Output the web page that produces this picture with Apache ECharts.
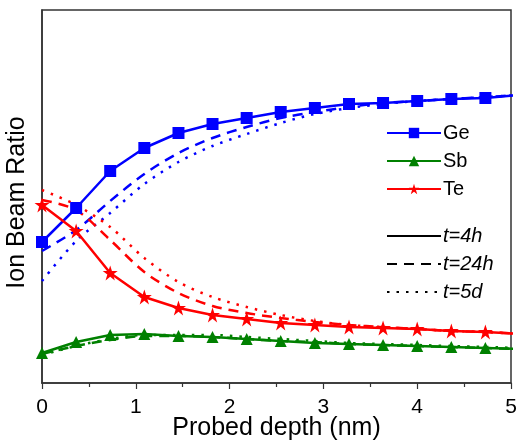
<!DOCTYPE html>
<html>
<head>
<meta charset="utf-8">
<script src="https://cdn.jsdelivr.net/npm/echarts@6/dist/echarts.min.js"></script>
<style>html,body{margin:0;padding:0;background:#fff;}#c{width:516px;height:443px;}</style>
</head>
<body>
<div id="c"></div>
<script>
// Probed depth (nm)
var depth = [0, 0.364, 0.727, 1.091, 1.455, 1.818, 2.182, 2.545, 2.909, 3.273, 3.636, 4.0, 4.364, 4.727, 5.091];
// Ion beam ratio (arbitrary units)
var ge4h  = [141,175,212,235,250,259,265,271,275,279,280,282,284,285,288];
var ge24h = [132,153,182,209,230,245,256,265,271,276,280,282,284,286,288];
var ge5d  = [102,142,170,199,221,237,249,260,269,275,279,282,284,286,288];
var sb4h  = [30,41,48,49,47,46,44,42,40,39,38,37,36,35,34];
var sb24h = [29,37,43,47,47,46,44,42,41,39,38,37,36,35,34];
var sb5d  = [28,37,44,48,48,48,46,44,42,40,39,38,37,36,35];
var te4h  = [178,152,110,86,75,68,64,60,58,56,55,54,52,51,49];
var te24h = [183,173,143,111,90,77,70,65,61,58,56,54,52,51,49];
var te5d  = [193,178,156,125,101,86,76,68,62,58,56,54,52,51,49];
var elementNames = ['Ge','Sb','Te'];
var timeNames = ['t=4h','t=24h','t=5d'];
var xTicks = [0,1,2,3,4,5];

function pairs(v){ return depth.map(function(x,i){ return [x, v[i]]; }); }
var FONT = '"Liberation Sans", Arial, sans-serif';
var BLUE = '#0000ff', GREEN = '#008000', RED = '#ff0000';
var DASH = [10,7], DOT = [2.5,7];

function solid(name, color, sym, size, data){
  return {name:name, type:'line', data:pairs(data), symbol:sym, symbolSize:size,
    color:color, itemStyle:{color:color}, lineStyle:{color:color, width:2.5, type:'solid'}, z:5, animation:false};
}
function broken(name, color, type, data){
  return {name:name, type:'line', data:pairs(data), symbol:'none', smooth:0.3,
    color:color, lineStyle:{color:color, width:2.5, type:type}, z:3, animation:false};
}
function dummy(name, type){
  return {name:name, type:'line', data:[], symbol:'circle', symbolSize:0,
    itemStyle:{color:'rgba(0,0,0,0)', borderColor:'rgba(0,0,0,0)', borderWidth:0},
    lineStyle:{color:'#000', width:2.8, type:type}, animation:false};
}
var starPath = 'path://M50,0 L61.8,35.4 L100,35.4 L69.1,57.3 L80.9,95.1 L50,71.8 L19.1,95.1 L30.9,57.3 L0,35.4 L38.2,35.4 Z';

var chart = echarts.init(document.getElementById('c'), null, {renderer:'canvas'});
chart.setOption({
  animation:false,
  backgroundColor:'#fff',
  grid:{left:42, right:5, top:10, bottom:60, outerBoundsMode:'none', containLabel:false,
    show:true, borderColor:'#333', borderWidth:1.5, backgroundColor:'transparent'},
  xAxis:{type:'value', min:0, max:5, interval:1,
    name:'Probed depth (nm)', nameLocation:'middle', nameGap:33, nameMoveOverlap:false,
    nameTextStyle:{fontFamily:FONT, fontSize:25, color:'#000'},
    axisLine:{show:true, onZero:false, lineStyle:{color:'#333', width:1.5}},
    axisTick:{show:true, inside:false, length:6, lineStyle:{color:'#333', width:1.2}},
    minorTick:{show:true, splitNumber:2, length:4, lineStyle:{color:'#333', width:1.2}},
    axisLabel:{fontFamily:FONT, fontSize:21, color:'#000', margin:14,
      formatter:function(v){ return xTicks.indexOf(v) >= 0 ? String(v) : ''; }},
    splitLine:{show:false}},
  yAxis:{type:'value', min:0, max:373,
    name:'Ion Beam Ratio', nameLocation:'middle', nameGap:12, nameRotate:90, nameMoveOverlap:false,
    nameTextStyle:{fontFamily:FONT, fontSize:25, color:'#000', padding:[0,12,0,0]},
    axisLine:{show:true, lineStyle:{color:'#333', width:1.5}},
    axisTick:{show:false}, axisLabel:{show:false}, splitLine:{show:false}},
  legend:[
    {data:elementNames, orient:'vertical', left:381, top:118, itemWidth:54, itemHeight:13, itemGap:8,
      textStyle:{fontFamily:FONT, fontSize:20, color:'#000', padding:[0,0,0,-3]}, selectedMode:false},
    {data:timeNames, orient:'vertical', left:381, top:221, itemWidth:54, itemHeight:13, itemGap:8,
      textStyle:{fontFamily:FONT, fontSize:20, color:'#000', fontStyle:'italic', padding:[0,0,0,-3]}, selectedMode:false}
  ],
  series:[
    broken('Ge 24h', BLUE, DASH, ge24h),
    broken('Ge 5d', BLUE, DOT, ge5d),
    broken('Sb 24h', GREEN, DASH, sb24h),
    broken('Sb 5d', GREEN, DOT, sb5d),
    broken('Te 24h', RED, DASH, te24h),
    broken('Te 5d', RED, DOT, te5d),
    solid('Ge', BLUE, 'rect', 12, ge4h),
    solid('Sb', GREEN, 'triangle', 12, sb4h),
    solid('Te', RED, starPath, 15, te4h),
    dummy('t=4h', 'solid'),
    dummy('t=24h', DASH),
    dummy('t=5d', DOT)
  ]
});
</script>
</body>
</html>
